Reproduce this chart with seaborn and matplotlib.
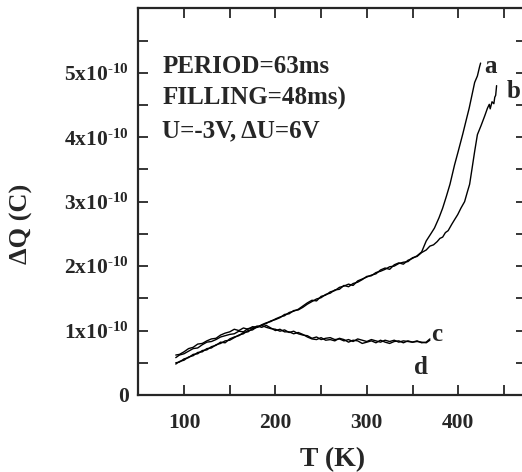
import numpy as np
import pandas as pd
import matplotlib
matplotlib.use("Agg")
import matplotlib.pyplot as plt
import matplotlib.ticker as mticker
import seaborn as sns

# readings, Q in units of 1e-10 C
T_a = [91, 95, 100, 105, 110, 115, 120, 125, 130, 135, 140, 145, 150, 155, 160, 165,
       170, 175, 180, 185, 190, 195, 200, 205, 210, 215, 220, 225, 230, 235, 240, 245,
       250, 255, 260, 265, 270, 275, 280, 285, 290, 295, 300, 305, 310, 315, 320, 325,
       330, 335, 340, 345, 350, 355, 360, 365, 370, 374, 379, 383, 387, 391, 394, 396,
       400, 405, 409, 412, 415, 418, 421, 423.5, 424.5]
Q_a = [0.50, 0.51, 0.56, 0.58, 0.63, 0.64, 0.69, 0.70, 0.75, 0.77, 0.82, 0.81, 0.87, 0.90,
       0.92, 0.97, 0.98, 1.03, 1.05, 1.09, 1.12, 1.14, 1.18, 1.21, 1.23, 1.28, 1.30, 1.33,
       1.38, 1.43, 1.47, 1.46, 1.53, 1.55, 1.60, 1.62, 1.67, 1.69, 1.72, 1.70, 1.77, 1.80,
       1.83, 1.86, 1.88, 1.94, 1.97, 1.95, 2.02, 2.05, 2.03, 2.09, 2.12, 2.16, 2.22, 2.39,
       2.50, 2.59, 2.75, 2.90, 3.08, 3.27, 3.45, 3.57, 3.78, 4.05, 4.28, 4.45, 4.65, 4.85,
       4.95, 5.10, 5.15]

T_b = [91, 95, 100, 105, 110, 115, 120, 125, 130, 135, 140, 145, 150, 155, 160, 165,
       170, 175, 180, 185, 190, 195, 200, 205, 210, 215, 220, 225, 230, 235, 240, 245,
       250, 255, 260, 265, 270, 275, 280, 285, 290, 295, 300, 305, 310, 315, 320, 325,
       330, 335, 340, 345, 350, 355, 360, 365, 369, 373, 377, 380, 383, 386, 389, 393,
       396, 399.5, 403, 407, 410, 412.5, 415, 418, 421, 425, 429, 432, 434, 435, 437,
       439, 440, 441, 442]
Q_b = [0.48, 0.52, 0.54, 0.59, 0.61, 0.66, 0.67, 0.72, 0.73, 0.78, 0.80, 0.84, 0.85, 0.89,
       0.93, 0.95, 1.00, 1.01, 1.06, 1.08, 1.11, 1.15, 1.17, 1.20, 1.25, 1.26, 1.31, 1.32,
       1.36, 1.41, 1.45, 1.49, 1.51, 1.56, 1.58, 1.63, 1.64, 1.70, 1.68, 1.73, 1.75, 1.79,
       1.84, 1.85, 1.90, 1.92, 1.95, 1.99, 2.00, 2.04, 2.06, 2.07, 2.13, 2.15, 2.21, 2.25,
       2.31, 2.33, 2.38, 2.43, 2.45, 2.52, 2.55, 2.65, 2.72, 2.80, 2.90, 3.00, 3.15, 3.27,
       3.50, 3.78, 4.04, 4.18, 4.33, 4.45, 4.51, 4.44, 4.55, 4.52, 4.62, 4.65, 4.80]

T_cd = [91, 95, 100, 105, 110, 115, 120, 125, 130, 135, 140, 145, 150, 155, 160, 165,
        170, 175, 180, 185, 190, 195, 200, 205, 210, 215, 220, 225, 230, 235, 240, 245,
        250, 255, 260, 265, 270, 275, 280, 285, 290, 295, 300, 305, 310, 315, 320, 325,
        330, 335, 340, 345, 350, 355, 360, 365, 369]
Q_c = [0.62, 0.63, 0.67, 0.72, 0.74, 0.79, 0.80, 0.84, 0.87, 0.88, 0.93, 0.96, 0.98, 1.02,
       1.00, 1.04, 1.02, 1.06, 1.05, 1.08, 1.05, 1.03, 1.02, 0.99, 1.01, 0.97, 0.99, 0.95,
       0.93, 0.92, 0.88, 0.90, 0.86, 0.88, 0.89, 0.86, 0.87, 0.84, 0.86, 0.83, 0.87, 0.85,
       0.83, 0.86, 0.84, 0.82, 0.85, 0.83, 0.85, 0.82, 0.84, 0.83, 0.82, 0.84, 0.81, 0.82,
       0.87]
Q_d = [0.58, 0.62, 0.64, 0.68, 0.72, 0.73, 0.78, 0.82, 0.83, 0.86, 0.90, 0.92, 0.94, 0.95,
       0.99, 0.98, 1.03, 1.04, 1.07, 1.05, 1.08, 1.04, 1.00, 1.02, 0.98, 0.98, 0.95, 0.97,
       0.94, 0.90, 0.87, 0.86, 0.89, 0.85, 0.86, 0.84, 0.88, 0.86, 0.82, 0.85, 0.84, 0.80,
       0.82, 0.84, 0.81, 0.85, 0.82, 0.80, 0.83, 0.84, 0.81, 0.84, 0.82, 0.83, 0.82, 0.81,
       0.85]

curve_names = ["a", "b", "c", "d"]
info_lines = ["PERIOD=63ms", "FILLING=48ms)", "U=-3V, \u0394U=6V"]

SCALE = 1e-10

sns.set_style("ticks")
plt.rcParams["font.family"] = ["Liberation Serif", "DejaVu Serif"]
plt.rcParams["font.weight"] = "bold"
plt.rcParams["mathtext.default"] = "regular"

fig = plt.figure(figsize=(5.22, 4.72), dpi=100)
ax = fig.add_axes([138.3 / 522, 77 / 472, 388 / 522, 386.7 / 472])

curves = [(T_a, Q_a), (T_b, Q_b), (T_cd, Q_c), (T_cd, Q_d)]
for name, (t, q) in zip(curve_names, curves):
    df = pd.DataFrame({"T": t, "Q": np.array(q) * SCALE})
    sns.lineplot(data=df, x="T", y="Q", ax=ax, color="black", lw=1.0,
                 estimator=None, sort=False)

ax.set_xlim(50, 474.5)
ax.set_ylim(0, 6 * SCALE)

ax.xaxis.set_major_locator(mticker.MultipleLocator(100))
ax.xaxis.set_minor_locator(mticker.MultipleLocator(50))
ax.yaxis.set_minor_locator(mticker.MultipleLocator(0.5 * SCALE))


def yfmt(v, pos):
    n = int(round(v / SCALE))
    if n == 0:
        return "0"
    return f"{n}x10$^{{\u2010{10}}}$"


ax.set_yticks([i * SCALE for i in range(6)])
ax.yaxis.set_major_formatter(mticker.FuncFormatter(yfmt))

ax.tick_params(which="both", direction="in", top=True, right=True,
               length=7, width=1.3, labelsize=15.5)
ax.tick_params(axis="x", pad=13)
ax.tick_params(axis="y", pad=7)
for lab in ax.get_xticklabels() + ax.get_yticklabels():
    lab.set_fontweight("bold")
for s in ax.spines.values():
    s.set_linewidth(1.6)

ax.set_xlabel("T (K)", fontsize=20, fontweight="bold")
ax.set_ylabel("\u0394Q (C)", fontsize=19, fontweight="bold")
ax.xaxis.set_label_coords(0.5, -0.135)
ax.yaxis.set_label_coords(-0.272, 0.443)

for i, line in enumerate(info_lines):
    ax.text(76, (5.1 - 0.5 * i) * SCALE, line, fontsize=18, fontweight="bold",
            ha="left", va="center")

label_pos = [(429, 5.1), (453, 4.71), (370, 0.94), (352, 0.42)]
for name, (tx, qy) in zip(curve_names, label_pos):
    ax.text(tx, qy * SCALE, name, fontsize=18, fontweight="bold",
            ha="left", va="center")

fig.savefig("out.png", dpi=100)
